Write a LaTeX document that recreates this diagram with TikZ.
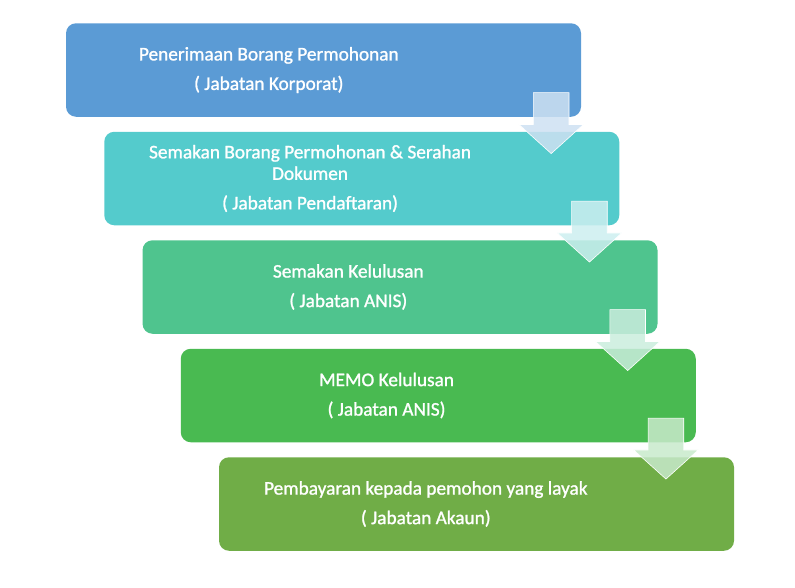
\documentclass[tikz,border=0pt]{standalone}
\usepackage{fontspec}
\setmainfont{Carlito}
\newfontfamily\stepfont[FakeBold=1.2]{Carlito}
\usepackage{tikz}
\usetikzlibrary{shapes.arrows}
\definecolor{stepone}{RGB}{91,155,213}
\definecolor{steptwo}{RGB}{84,203,204}
\definecolor{stepthree}{RGB}{79,196,142}
\definecolor{stepfour}{RGB}{73,186,81}
\definecolor{stepfive}{RGB}{112,173,71}

\begin{document}
\begin{tikzpicture}[x=1pt, y=-1pt, node distance=108.5pt,
                    stepbox/.style={rectangle, rounded corners=10pt, draw=none,
                    minimum width=515pt, minimum height=93.5pt, inner sep=0pt},
                    steptext/.style={text=white, align=center, inner sep=0pt,
                    font=\stepfont\fontsize{19.3}{21.5}\selectfont},
                    flowarrow/.style={single arrow, shape border rotate=270, anchor=tip,
                    minimum width=64pt, minimum height=61pt, inner sep=17.5pt,
                    single arrow head extend=14.5pt, single arrow tip angle=96,
                    draw=white, line width=0.6pt, fill opacity=0.85}]
    \useasboundingbox (0,0) rectangle (795,587);
    \node [stepbox, fill=stepone] (s1) at (323.5,70) {};
    \node [stepbox, fill=steptwo, below of=s1, xshift=38.25pt] (s2) {};
    \node [stepbox, fill=stepthree, below of=s2, xshift=38.25pt] (s3) {};
    \node [stepbox, fill=stepfour, below of=s3, xshift=38.25pt] (s4) {};
    \node [stepbox, fill=stepfive, below of=s4, xshift=38.25pt] (s5) {};

    \node [steptext] (t1) at ([xshift=203pt]s1.west) {Penerimaan Borang Permohonan\\[8pt]( Jabatan Korporat)};
    \node [steptext] (t2) at ([xshift=206pt]s2.west) {Semakan Borang Permohonan \& Serahan\\Dokumen\\[8pt]( Jabatan Pendaftaran)};
    \node [steptext] (t3) at ([xshift=206pt]s3.west) {Semakan Kelulusan\\[8pt]( Jabatan ANIS)};
    \node [steptext] (t4) at ([xshift=206pt]s4.west) {MEMO Kelulusan\\[8pt]( Jabatan ANIS)};
    \node [steptext] (t5) at ([xshift=207pt]s5.west) {Pembayaran kepada pemohon yang layak\\[8pt]( Jabatan Akaun)};

    \node [flowarrow, fill=stepone!30!white] (a1) at ([xshift=-30pt,yshift=-37pt]s1.south east) {};
    \node [flowarrow, fill=steptwo!30!white] (a2) at ([xshift=-30pt,yshift=-37pt]s2.south east) {};
    \node [flowarrow, fill=stepthree!30!white] (a3) at ([xshift=-30pt,yshift=-37pt]s3.south east) {};
    \node [flowarrow, fill=stepfour!30!white] (a4) at ([xshift=-30pt,yshift=-37pt]s4.south east) {};
\end{tikzpicture}
\end{document}
